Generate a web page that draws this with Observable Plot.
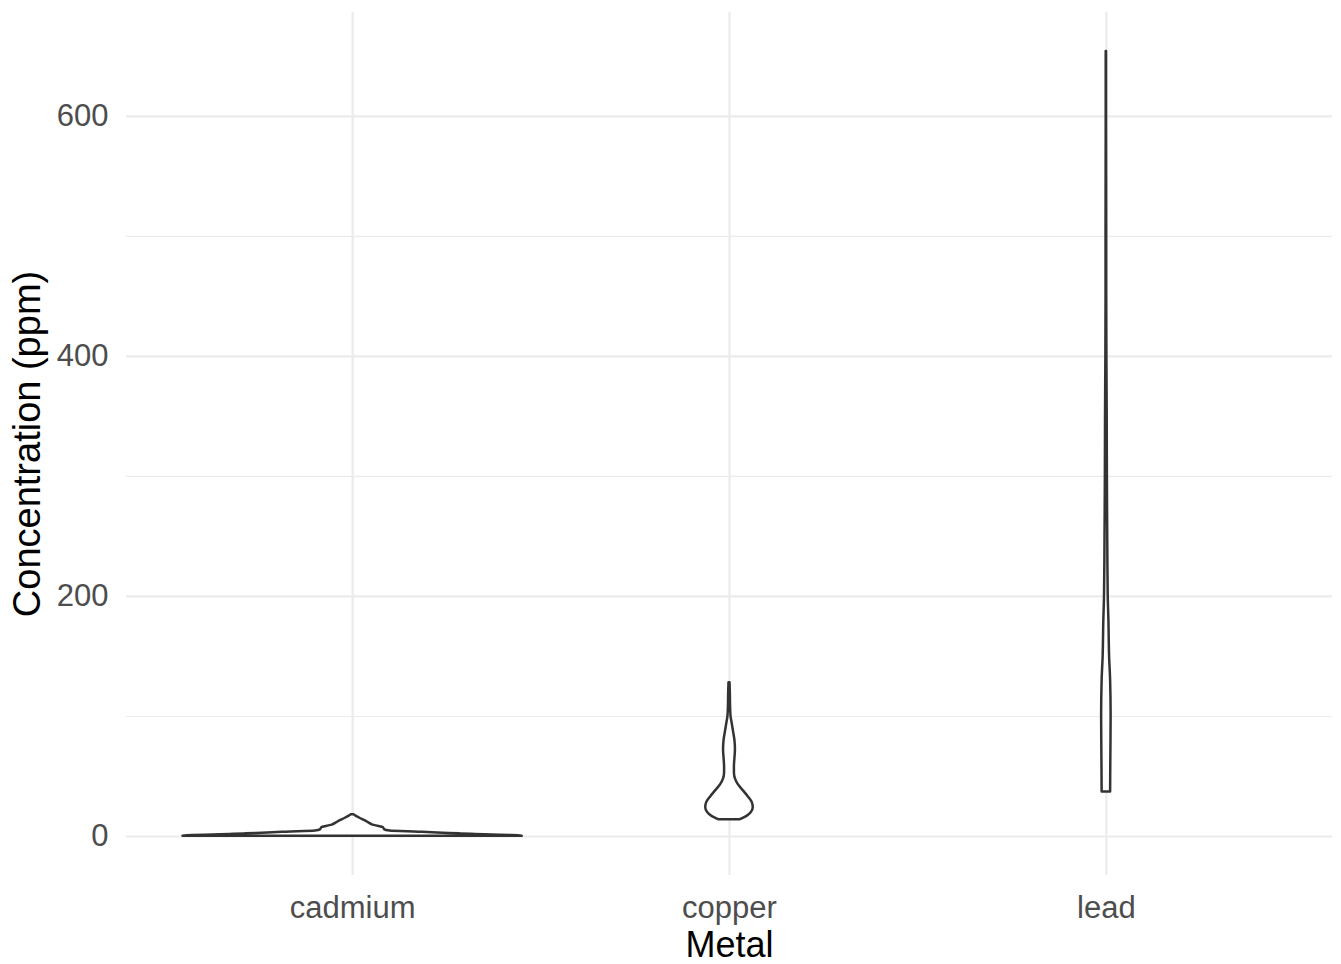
<!DOCTYPE html>
<html>
<head>
<meta charset="utf-8">
<script src="https://cdn.jsdelivr.net/npm/d3@7"></script>
<script src="https://cdn.jsdelivr.net/npm/@observablehq/plot@0.6"></script>
<style>
  html, body { margin: 0; padding: 0; background: #ffffff; }
  #chart svg { display: block; }
  #chart [aria-label$="tick label"] { fill: #4d4d4d; }
</style>
</head>
<body>
<div id="chart"></div>
<script>
// Categories
const metals = ["cadmium", "copper", "lead"];

// Violin outlines: concentration (ppm) and relative density (1 = widest violin)
const cadmiumPpm     = [0.2, 0.8, 1.2, 1.8, 2.2, 3.0, 3.6, 4.5, 5.5, 6.5, 7.5, 8.5, 9.5, 11, 13, 15, 17, 18.1];
const cadmiumDensity = [1.00, 0.94, 0.82, 0.70, 0.63, 0.50, 0.39, 0.22, 0.19, 0.185, 0.18, 0.15, 0.12, 0.10, 0.075, 0.046, 0.02, 0.008];

const copperPpm      = [14, 17, 20, 24, 28, 33, 38, 43, 48, 53, 58, 65, 72, 80, 88, 95, 100, 110, 120, 128];
const copperDensity  = [0.064, 0.105, 0.129, 0.140, 0.135, 0.111, 0.082, 0.053, 0.035, 0.029, 0.029, 0.032, 0.035, 0.032, 0.023, 0.015, 0.009, 0.006, 0.005, 0.003];

const leadPpm        = [37, 60, 100, 130, 150, 180, 200, 250, 300, 350, 400, 450, 500, 600, 654];
const leadDensity    = [0.025, 0.026, 0.028, 0.025, 0.019, 0.015, 0.011, 0.008, 0.006, 0.005, 0.003, 0.002, 0.002, 0.001, 0.001];

// Axis ticks
const yMajorTicks = [0, 200, 400, 600];
const yMinorTicks = [100, 300, 500];
const xTitle = "Metal";
const yTitle = "Concentration (ppm)";

const series = [
  [cadmiumPpm, cadmiumDensity],
  [copperPpm, copperDensity],
  [leadPpm, leadDensity]
];
const rows = [];
series.forEach(([ppm, dens], k) => {
  ppm.forEach((v, j) => rows.push({metal: metals[k], pos: k + 1, ppm: v, density: dens[j]}));
});

const halfMax = 0.45; // violin width 0.9 of a category slot
const grid = "#ebebeb";

const chart = Plot.plot({
  width: 1341,
  height: 964,
  marginLeft: 126,
  marginRight: 9,
  marginTop: 12,
  marginBottom: 89,
  style: {fontFamily: "'Liberation Sans', Arial, sans-serif", background: "#ffffff", color: "#000000"},
  x: {type: "linear", domain: [0.4, 3.6], axis: null},
  y: {domain: [-32.5, 686.5], axis: null},
  marks: [
    Plot.gridY(yMinorTicks, {stroke: grid, strokeOpacity: 1, strokeWidth: 1.1}),
    Plot.gridY(yMajorTicks, {stroke: grid, strokeOpacity: 1, strokeWidth: 2.2}),
    Plot.gridX(metals.map((m, i) => i + 1), {stroke: grid, strokeOpacity: 1, strokeWidth: 2.2}),
    Plot.areaX(rows, {
      y: "ppm",
      x1: d => d.pos - halfMax * d.density,
      x2: d => d.pos + halfMax * d.density,
      z: "metal",
      fill: "#ffffff",
      stroke: "#333333",
      strokeWidth: 2.5,
      curve: "monotone-y"
    }),
    Plot.axisY({ticks: yMajorTicks, tickSize: 0, tickPadding: 18, fontSize: 31, label: null}),
    Plot.axisX({ticks: metals.map((m, i) => i + 1), tickFormat: i => metals[i - 1], tickSize: 0, tickPadding: 20, fontSize: 31, label: null}),
    Plot.text([xTitle], {frameAnchor: "bottom", dy: 70, fontSize: 36, fill: "#000000", textAnchor: "middle", lineAnchor: "middle"}),
    Plot.text([yTitle], {frameAnchor: "left", dx: -99, rotate: -90, fontSize: 38, fill: "#000000", textAnchor: "middle", lineAnchor: "middle"})
  ]
});
document.getElementById("chart").appendChild(chart);
</script>
</body>
</html>
